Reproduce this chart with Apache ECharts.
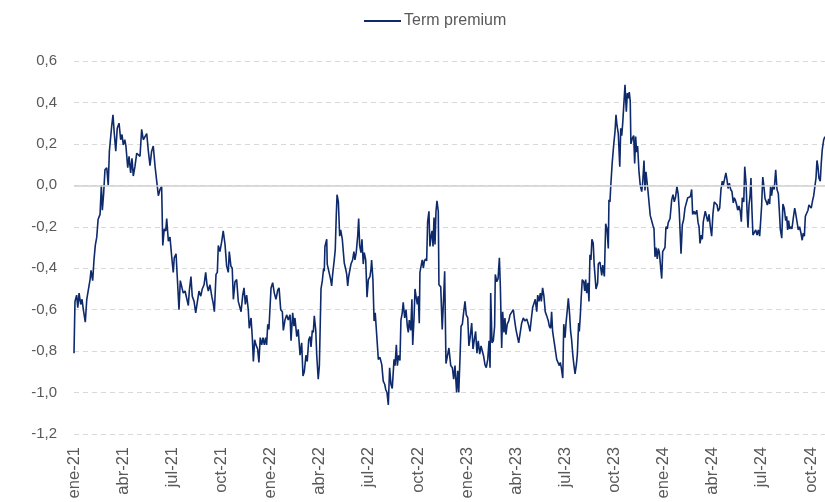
<!DOCTYPE html>
<html>
<head>
<meta charset="utf-8">
<script src="https://cdn.jsdelivr.net/npm/echarts@6/dist/echarts.min.js"></script>
<style>html,body{margin:0;padding:0;background:#fff}#c{width:825px;height:502px}</style>
</head>
<body>
<div id="c"></div>
<script>
// x positions: months elapsed since 1 Jan 2021
const months = [
0.00,0.06,0.16,0.23,0.31,0.41,0.49,0.57,0.69,0.78,0.87,0.98,1.04,1.14,1.22,1.30,1.39,1.47,1.59,1.67,1.73,1.81,1.89,2.00,2.09,2.16,2.24,2.30,2.38,2.46,2.55,2.64,2.75,2.85,2.93,3.01,3.10,3.17,3.28,3.36,3.46,3.54,3.62,3.72,3.83,3.93,4.03,4.13,4.23,
4.33,4.44,4.54,4.64,4.74,4.84,4.95,5.05,5.15,5.25,5.35,5.42,5.51,5.60,5.66,5.76,5.86,5.96,6.06,6.12,6.23,6.33,6.41,6.49,6.58,6.67,6.78,6.88,6.98,7.04,7.14,7.22,7.33,7.43,7.55,7.63,7.74,7.83,7.94,8.04,8.12,8.20,8.30,8.41,8.50,8.57,8.67,8.75,8.81,8.91,9.02,9.11,9.22,9.32,9.42,
9.48,9.58,9.66,9.73,9.83,9.93,10.03,10.13,10.20,10.30,10.38,10.46,10.54,10.64,10.70,10.81,10.89,10.95,11.03,11.11,11.21,11.29,11.37,11.46,11.54,11.62,11.70,11.76,11.83,11.90,11.97,12.03,12.13,12.23,12.33,12.44,12.52,12.62,12.72,12.78,12.88,12.99,13.08,13.19,13.25,13.35,13.43,13.49,
13.60,13.69,13.80,13.90,13.98,14.06,14.16,14.24,14.33,14.41,14.47,14.55,14.61,14.67,14.76,14.82,14.91,14.98,15.08,15.16,15.24,15.28,15.32,15.43,15.46,15.57,15.67,15.73,15.79,15.89,15.95,16.01,16.06,16.14,16.22,16.28,16.38,16.44,16.50,16.59,16.65,16.71,16.77,16.85,16.91,17.01,17.09,17.15,17.23,17.32,17.38,17.44,17.52,17.58,17.66,17.72,17.81,17.89,17.97,18.07,18.13,18.17,18.25,18.32,18.39,18.48,18.58,
18.68,18.79,18.88,18.97,19.03,19.11,19.19,19.27,19.35,19.43,19.54,19.60,19.68,19.74,19.82,19.90,19.96,20.04,20.10,20.19,20.27,20.35,20.41,20.47,20.56,20.63,20.68,20.76,20.82,20.88,20.96,21.02,21.08,21.12,21.18,21.26,21.33,21.39,21.47,21.53,21.59,21.67,21.73,21.80,21.86,21.92,21.98,22.04,22.10,22.16,22.24,22.28,22.39,22.48,22.57,22.63,22.71,
22.81,22.89,23.00,23.10,23.18,23.26,23.36,23.43,23.49,23.57,23.63,23.71,23.77,23.87,23.95,24.04,24.11,24.19,24.28,24.36,24.44,24.52,24.60,24.68,24.77,24.85,24.93,25.01,25.09,25.17,25.26,25.34,25.40,25.44,25.52,25.60,25.68,25.72,25.81,25.89,25.97,26.03,26.11,26.17,26.25,26.31,26.37,26.45,26.54,26.62,26.72,26.82,26.90,26.98,27.06,27.15,27.23,
27.33,27.43,27.53,27.64,27.74,27.84,27.92,28.00,28.08,28.16,28.25,28.31,28.39,28.47,28.53,28.61,28.69,28.77,28.86,28.96,29.02,29.10,29.16,29.22,29.30,29.38,29.47,29.55,29.63,29.69,29.75,29.84,29.90,29.98,30.04,30.10,30.18,30.26,30.32,30.38,30.45,30.51,30.59,30.67,30.73,30.81,30.85,30.91,30.97,31.03,31.12,31.18,31.24,31.30,31.38,31.44,31.50,31.56,31.62,31.70,31.76,
31.87,31.97,32.01,32.11,32.22,32.28,32.38,32.46,32.54,32.62,32.66,32.72,32.78,32.86,32.95,33.03,33.09,33.15,33.23,33.32,33.38,33.44,33.50,33.58,33.64,33.72,33.78,33.84,33.90,33.96,34.00,34.08,34.17,34.23,34.29,34.35,34.41,34.49,34.57,34.66,34.72,34.80,34.86,34.92,34.98,35.04,35.10,35.18,35.27,35.35,35.41,35.47,35.53,35.61,35.67,35.73,35.82,35.88,35.94,36.00,36.08,36.14,36.22,36.28,
36.39,36.49,36.57,36.65,36.73,36.81,36.89,36.95,37.06,37.14,37.22,37.30,37.41,37.47,37.55,37.63,37.71,37.77,37.85,37.93,38.02,38.10,38.16,38.22,38.30,38.36,38.42,38.48,38.54,38.63,38.69,38.77,38.85,38.93,39.01,39.09,39.18,39.26,39.33,39.42,39.50,39.58,39.64,39.73,39.80,39.87,39.93,40.01,40.09,40.17,40.25,40.31,40.37,40.46,40.52,40.60,40.68,40.74,40.80,40.89,40.95,
41.03,41.09,41.15,41.21,41.27,41.33,41.39,41.45,41.53,41.62,41.70,41.78,41.86,41.92,41.98,42.05,42.12,42.19,42.27,42.33,42.41,42.47,42.53,42.59,42.67,42.75,42.84,42.92,43.00,43.06,43.12,43.21,43.28,43.36,43.45,43.51,43.57,43.63,43.69,43.75,43.83,43.91,44.00,44.06,44.14,44.22,44.30,44.38,44.46,44.52,44.59,44.65,44.73,44.81,44.87,44.93,45.01,45.10,45.16,45.24,45.30,45.36,45.42,45.48,45.56,45.62,45.68,45.77,45.85
];
const termPremium = [
-0.81,-0.56,-0.53,-0.59,-0.52,-0.575,-0.55,-0.60,-0.66,-0.55,-0.55,-0.455,-0.41,-0.46,-0.36,-0.29,-0.25,-0.165,-0.14,0.0,-0.12,-0.04,0.075,0.085,0.0,0.165,0.17,0.285,0.34,0.25,0.165,0.275,0.30,0.22,0.245,0.195,0.22,0.19,0.085,0.14,0.06,0.13,0.045,0.09,0.155,0.155,0.14,0.27,0.22,
0.22,0.25,0.165,0.095,0.165,0.19,0.09,0.09,-0.05,-0.02,-0.005,-0.29,-0.21,-0.22,-0.16,-0.27,-0.25,-0.34,-0.42,-0.35,-0.33,-0.48,-0.60,-0.46,-0.455,-0.52,-0.51,-0.51,-0.58,-0.51,-0.44,-0.535,-0.56,-0.615,-0.62,-0.51,-0.535,-0.50,-0.48,-0.42,-0.48,-0.51,-0.48,-0.535,-0.57,-0.61,-0.43,-0.42,-0.29,-0.32,-0.27,-0.22,-0.285,-0.39,-0.42,
-0.32,-0.39,-0.40,-0.55,-0.465,-0.455,-0.56,-0.56,-0.61,-0.53,-0.495,-0.575,-0.53,-0.60,-0.69,-0.64,-0.74,-0.85,-0.745,-0.77,-0.79,-0.855,-0.735,-0.77,-0.735,-0.77,-0.735,-0.77,-0.67,-0.695,-0.585,-0.495,-0.47,-0.52,-0.55,-0.505,-0.495,-0.60,-0.61,-0.70,-0.65,-0.625,-0.65,-0.625,-0.75,-0.615,-0.68,-0.64,
-0.73,-0.695,-0.82,-0.76,-0.92,-0.90,-0.82,-0.85,-0.745,-0.73,-0.78,-0.70,-0.71,-0.63,-0.70,-0.82,-0.935,-0.87,-0.50,-0.46,-0.40,-0.415,-0.295,-0.26,-0.38,-0.38,-0.455,-0.485,-0.43,-0.36,-0.31,-0.15,-0.045,-0.08,-0.245,-0.215,-0.26,-0.255,-0.375,-0.405,-0.43,-0.485,-0.44,-0.405,-0.38,-0.36,-0.32,-0.36,-0.325,-0.245,-0.16,-0.29,-0.325,-0.26,-0.38,-0.325,-0.36,-0.54,-0.455,-0.44,-0.405,-0.36,-0.455,-0.655,-0.615,-0.62,-0.84,
-0.83,-0.865,-0.945,-0.96,-0.985,-1.0,-1.06,-0.88,-0.96,-0.98,-0.84,-0.87,-0.77,-0.87,-0.82,-0.845,-0.65,-0.615,-0.565,-0.64,-0.60,-0.68,-0.71,-0.65,-0.70,-0.55,-0.77,-0.64,-0.50,-0.535,-0.575,-0.535,-0.665,-0.42,-0.415,-0.36,-0.40,-0.365,-0.355,-0.365,-0.175,-0.125,-0.295,-0.245,-0.22,-0.295,-0.155,-0.285,-0.125,-0.075,-0.125,-0.48,-0.49,-0.695,-0.535,-0.415,-0.86,
-0.86,-0.785,-0.87,-0.88,-0.935,-0.87,-1.0,-0.895,-1.0,-0.825,-0.68,-0.67,-0.625,-0.56,-0.625,-0.64,-0.775,-0.73,-0.665,-0.79,-0.745,-0.705,-0.81,-0.75,-0.815,-0.775,-0.77,-0.825,-0.865,-0.88,-0.84,-0.75,-0.88,-0.52,-0.76,-0.75,-0.68,-0.43,-0.465,-0.45,-0.35,-0.49,-0.785,-0.61,-0.71,-0.64,-0.72,-0.67,-0.655,-0.625,-0.63,-0.60,-0.65,-0.695,-0.69,-0.76,-0.76,
-0.665,-0.64,-0.655,-0.645,-0.67,-0.705,-0.645,-0.59,-0.57,-0.55,-0.61,-0.53,-0.56,-0.52,-0.56,-0.495,-0.535,-0.61,-0.63,-0.655,-0.68,-0.69,-0.61,-0.705,-0.70,-0.79,-0.84,-0.855,-0.87,-0.855,-0.88,-0.93,-0.67,-0.735,-0.665,-0.615,-0.545,-0.625,-0.705,-0.745,-0.815,-0.86,-0.91,-0.865,-0.815,-0.665,-0.705,-0.63,-0.535,-0.455,-0.465,-0.51,-0.455,-0.52,-0.47,-0.56,-0.335,-0.36,-0.26,-0.28,-0.385,
-0.50,-0.47,-0.38,-0.37,-0.435,-0.385,-0.44,-0.185,-0.21,-0.305,-0.07,-0.08,0.01,0.11,0.195,0.26,0.34,0.29,0.25,0.09,0.275,0.24,0.30,0.30,0.485,0.355,0.445,0.42,0.45,0.405,0.20,0.225,0.24,0.105,0.235,0.16,0.19,0.07,0.0,-0.03,0.015,0.12,-0.025,0.065,0.07,-0.025,-0.03,-0.145,-0.145,-0.195,-0.21,-0.345,-0.30,-0.355,-0.305,-0.32,-0.315,-0.45,-0.32,-0.315,-0.30,-0.20,-0.21,-0.18,
-0.16,-0.07,-0.045,-0.08,-0.055,-0.005,-0.045,-0.12,-0.33,-0.19,-0.165,-0.11,-0.11,-0.06,-0.06,-0.055,-0.02,-0.14,-0.125,-0.14,-0.12,-0.18,-0.20,-0.28,-0.24,-0.26,-0.175,-0.15,-0.125,-0.125,-0.175,-0.14,-0.20,-0.245,-0.135,-0.08,-0.085,-0.095,-0.125,-0.11,-0.02,0.02,0.0,0.035,0.06,0.025,-0.015,0.01,-0.02,-0.03,-0.085,-0.06,-0.07,-0.095,-0.12,-0.10,-0.125,-0.175,-0.06,-0.08,0.09,
0.01,-0.12,-0.205,-0.095,-0.055,0.035,-0.12,-0.24,-0.245,-0.215,-0.24,-0.215,-0.245,-0.175,-0.10,0.04,-0.005,-0.065,-0.08,-0.095,-0.065,-0.09,-0.005,-0.05,0.0,-0.02,0.075,-0.02,-0.04,-0.12,-0.21,-0.255,-0.09,-0.11,-0.17,-0.15,-0.215,-0.17,-0.21,-0.20,-0.21,-0.16,-0.11,-0.135,-0.175,-0.215,-0.20,-0.23,-0.265,-0.23,-0.245,-0.15,-0.135,-0.12,-0.095,-0.09,-0.11,-0.07,-0.05,0.0,0.035,0.12,0.09,0.035,0.02,0.105,0.17,0.22,0.235
];
const xTickLabels = ['ene-21','abr-21','jul-21','oct-21','ene-22','abr-22','jul-22','oct-22','ene-23','abr-23','jul-23','oct-23','ene-24','abr-24','jul-24','oct-24'];
const seriesName = 'Term premium';

const chart = echarts.init(document.getElementById('c'), null, {renderer: 'canvas'});
const textColor = '#595959';
chart.setOption({
  animation: false,
  backgroundColor: '#ffffff',
  legend: {
    data: [seriesName],
    left: 359, top: 8,
    itemWidth: 37, itemHeight: 2, itemGap: 10,
    icon: 'rect',
    textStyle: {color: textColor, fontSize: 16, fontFamily: 'Liberation Sans Narrow, Liberation Sans, sans-serif', padding: [0,0,0,-2]}
  },
  grid: {left: 74, right: 0, top: 61, bottom: 68, containLabel: false, outerBoundsMode: 'none'},
  xAxis: {
    type: 'value', min: 0, max: 45.85, interval: 3,
    axisLine: {show: false}, axisTick: {show: false}, splitLine: {show: false},
    axisLabel: {
      rotate: 90, margin: 13, color: textColor, fontSize: 16.5, fontFamily: 'Liberation Sans, Arial, sans-serif',
      showMaxLabel: false,
      formatter: function (v) {
        const i = Math.round(v / 3);
        if (Math.abs(v - i * 3) > 1e-6) return '';
        return xTickLabels[i] || '';
      }
    }
  },
  yAxis: {
    type: 'value', min: -1.2, max: 0.6, interval: 0.2,
    axisLine: {show: false}, axisTick: {show: false},
    splitLine: {show: true, lineStyle: {color: '#d9d9d9', type: [5, 4], width: 1}},
    axisLabel: {
      margin: 17, color: textColor, fontSize: 15, fontFamily: 'Liberation Sans, Arial, sans-serif',
      formatter: function (v) { return (Math.round(v * 10) / 10).toFixed(1).replace('.', ','); }
    }
  },
  series: [
    {
      name: 'zero', type: 'line', data: [], z: 1, silent: true,
      markLine: {symbol: 'none', silent: true, label: {show: false},
        lineStyle: {color: '#d0d0d0', type: 'solid', width: 1.5},
        data: [{yAxis: 0}]}
    },
    {
      name: seriesName, type: 'line', z: 3,
      data: months.map((m, i) => [m, termPremium[i]]),
      showSymbol: false, symbol: 'none',
      lineStyle: {color: '#0e2a6b', width: 1.6},
      itemStyle: {color: '#0e2a6b'}
    }
  ]
});
</script>
</body>
</html>
